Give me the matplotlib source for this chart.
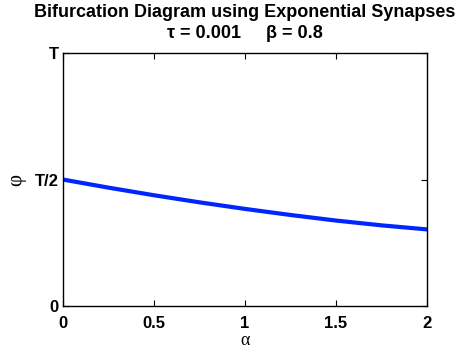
import matplotlib
matplotlib.use("Agg")
import matplotlib.pyplot as plt

# data (phase as fraction of period T)
alpha = [0.0, 0.25, 0.5, 0.75, 1.0, 1.25, 1.5, 1.75, 2.0]
phi = [0.5, 0.468, 0.438, 0.410, 0.384, 0.360, 0.338, 0.319, 0.303]

xticks = [0, 0.5, 1, 1.5, 2]
xticklabels = ["0", "0.5", "1", "1.5", "2"]
yticks = [0, 0.5, 1]
yticklabels = ["0", "T/2", "T"]

plt.rcParams['font.family'] = ['Liberation Sans', 'DejaVu Sans']

fig = plt.figure(figsize=(4.66, 3.51), dpi=100)
ax = fig.add_axes([0.135, 0.128, 0.781, 0.721])

ax.plot(alpha, phi, color=(0.0, 0.15, 1.0), lw=3)

ax.set_xlim(0, 2)
ax.set_ylim(0, 1)
ax.set_xticks(xticks)
ax.set_xticklabels(xticklabels, fontweight='bold', fontsize=12)
ax.set_yticks(yticks)
ax.set_yticklabels(yticklabels, fontweight='bold', fontsize=12)
ax.tick_params(direction='in', top=True, right=True, length=4, width=0.8)
ax.tick_params(axis='x', pad=7)
ax.tick_params(axis='y', pad=3)
for s in ax.spines.values():
    s.set_linewidth(1.0)

ax.set_xlabel("α", fontsize=13, family='Liberation Serif', labelpad=1)
ax.set_ylabel("φ", fontsize=15, family='Liberation Serif', labelpad=6)
ax.set_title("Bifurcation Diagram using Exponential Synapses\nτ = 0.001     β = 0.8",
             fontweight='bold', fontsize=13, pad=11, linespacing=1.3)

fig.savefig("out.png", dpi=100)
